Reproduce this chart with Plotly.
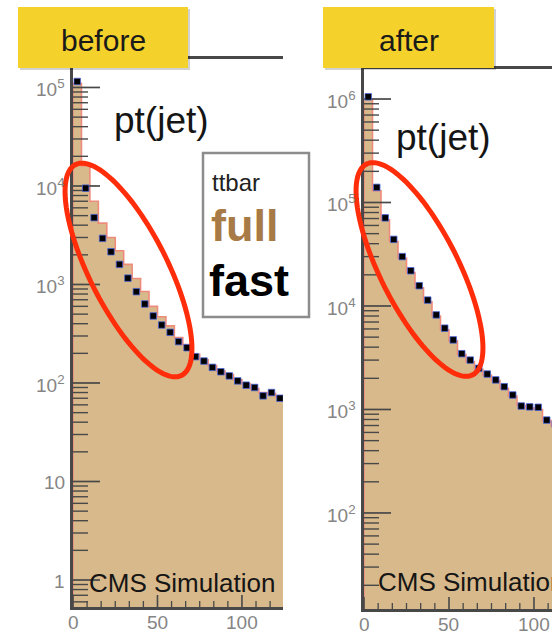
import numpy as np
import plotly.graph_objects as go

W, H = 552, 635

# ---------------- data ----------------
bin_width = 5
bin_edges = list(range(0, 130, 5))            # 0 .. 125
bin_centers = [e + bin_width / 2 for e in bin_edges[:-1]]

# "before" panel (pt(jet), ttbar)
before_full = [1.1e5, 1.6e4, 7.0e3, 4.2e3, 3.0e3, 2.2e3, 1.6e3, 1.15e3, 850, 600,
               470, 380, 290, 245, 195, 172, 150, 132, 122, 108, 98, 88, 80, 78, 72]
before_fast = [1.15e5, 9.5e3, 4.77e3, 2.94e3, 2.15e3, 1.60e3, 1.16e3, 845, 634, 479,
               388, 327, 263, 228, 185, 167, 144, 130, 118, 105, 95, 90, 74, 80, 70]

# "after" panel
after_full = [1.0e6, 1.3e5, 6.8e4, 4.2e4, 2.9e4, 2.1e4, 1.5e4, 1.1e4, 8.0e3, 5.9e3,
              4.6e3, 3.4e3, 2.9e3, 2.45e3, 2.15e3, 1.9e3, 1.6e3, 1.35e3, 1.1e3, 1.04e3,
              1.0e3, 780, 700, 650, 600]
after_fast = [1.05e6, 1.40e5, 7.1e4, 4.4e4, 3.0e4, 2.19e4, 1.57e4, 1.14e4, 8.2e3, 6.1e3,
              4.7e3, 3.46e3, 3.0e3, 2.5e3, 2.2e3, 1.93e3, 1.66e3, 1.38e3, 1.08e3, 1.06e3,
              1.05e3, 790, 720, 660, 610]

x_tick_vals = [0, 50, 100]
x_tick_text = ["0", "50", "100"]
left_y_tick_vals = [1, 10, 1e2, 1e3, 1e4, 1e5]
left_y_tick_text = ["1", "10", "10<sup>2</sup>", "10<sup>3</sup>", "10<sup>4</sup>", "10<sup>5</sup>"]
right_y_tick_vals = [1e2, 1e3, 1e4, 1e5, 1e6]
right_y_tick_text = ["10<sup>2</sup>", "10<sup>3</sup>", "10<sup>4</sup>", "10<sup>5</sup>", "10<sup>6</sup>"]

panel_titles = ["before", "after"]
var_label = "pt(jet)"
sample_label = "ttbar"
legend_full = "full"
legend_fast = "fast"
exp_label = "CMS Simulation"

# ---------------- styles ----------------
FILL = "#D8B98B"
EDGE = "#EE8C7C"
YELLOW = "#F5D12B"
RED = "#FF2D0A"
FULLCOL = "#A87A45"
AXC = "#484848"
LABC = "#858585"
FONT = "Liberation Sans"


def px(x):
    return x / W


def py(y):
    return 1 - y / H


# panel geometry (pixels) and axis ranges
panel_defs = [
    dict(full=before_full, fast=before_fast, xa="x", ya="y", left=73, right=283,
         top=59, bottom=607, xr=[0, 124.3], yr=[-0.274, 5.289],
         yticks=left_y_tick_vals, ytext=left_y_tick_text),
    dict(full=after_full, fast=after_fast, xa="x2", ya="y2", left=364, right=552,
         top=69, bottom=609, xr=[0, 110.6], yr=[1.072, 6.29],
         yticks=right_y_tick_vals, ytext=right_y_tick_text),
]

fig = go.Figure()
annotations = []
for p in panel_defs:
    xa, ya = p["xa"], p["ya"]
    full, fast = p["full"], p["fast"]
    fig.add_trace(go.Bar(x=bin_centers, y=full, width=bin_width, marker_color=FILL,
                         marker_line_width=0, xaxis=xa, yaxis=ya, showlegend=False))
    step_x = [bin_edges[0]] + bin_edges
    step_y = [1e-3] + full + [full[-1]]
    fig.add_trace(go.Scatter(x=step_x, y=step_y, mode="lines", line_shape="hv",
                             line=dict(color=EDGE, width=1.6), xaxis=xa, yaxis=ya,
                             showlegend=False, hoverinfo="skip"))

    # ROOT-like ticks drawn through the axes' scales
    ux = (p["right"] - p["left"]) / (p["xr"][1] - p["xr"][0])       # px per x unit
    uy = (p["bottom"] - p["top"]) / (p["yr"][1] - p["yr"][0])       # px per decade
    ybot = p["yr"][0]

    def seg_h(vals, length):
        xs, ys = [], []
        for v in vals:
            xs += [p["xr"][0], p["xr"][0] + length / ux, None]
            ys += [v, v, None]
        return xs, ys

    def seg_v(vals, length):
        xs, ys = [], []
        for v in vals:
            xs += [v, v, None]
            ys += [10 ** ybot, 10 ** (ybot + length / uy), None]
        return xs, ys

    minor_y = [d * 10.0 ** k for k in range(int(np.floor(p["yr"][0])), int(np.ceil(p["yr"][1])) + 1)
               for d in range(2, 10) if p["yr"][0] < np.log10(d * 10.0 ** k) < p["yr"][1]]
    step = 50 / 6
    minor_x = [n * step for n in range(1, 40) if n % 6 and n * step < p["xr"][1]]

    for (xs, ys), w in [(seg_h(p["yticks"], 27), 1.7), (seg_h(minor_y, 15), 1.4),
                        (seg_v(x_tick_vals, 12), 1.6), (seg_v(minor_x, 6), 1.3)]:
        fig.add_trace(go.Scatter(x=xs, y=ys, mode="lines", line=dict(color=AXC, width=w),
                                 xaxis=xa, yaxis=ya, showlegend=False, hoverinfo="skip"))

    # fast simulation markers
    fig.add_trace(go.Scatter(x=bin_centers, y=fast, mode="markers",
                             marker=dict(symbol="square", size=6.5, color="black",
                                         line=dict(color="#4a64d8", width=0.8)),
                             xaxis=xa, yaxis=ya, showlegend=False))

    # tick labels (placed with the same pixel scale as the axes)
    for v, txt in zip(p["yticks"], p["ytext"]):
        ypx = p["bottom"] - (np.log10(v) - ybot) * uy
        annotations.append(dict(text=txt, xref="paper", yref="paper", x=px(p["left"] - 6),
                                y=py(ypx + 1), xanchor="right", yanchor="middle",
                                showarrow=False, font=dict(family=FONT, size=19, color=LABC)))
    for v, txt in zip(x_tick_vals, x_tick_text):
        xpx = p["left"] + (v - p["xr"][0]) * ux
        annotations.append(dict(text=txt, xref="paper", yref="paper", x=px(xpx),
                                y=py(p["bottom"] + 15), xanchor="center", yanchor="middle",
                                showarrow=False, font=dict(family=FONT, size=19, color=LABC)))


def xaxis_style(domain, rng, anchor):
    return dict(domain=domain, range=rng, anchor=anchor, showline=True, linecolor=AXC,
                linewidth=3, mirror=True, ticks="", showticklabels=False,
                showgrid=False, zeroline=False, fixedrange=True)


def yaxis_style(domain, rng, anchor):
    return dict(type="log", domain=domain, range=rng, anchor=anchor, showline=True,
                linecolor=AXC, linewidth=3, ticks="", showticklabels=False,
                showgrid=False, zeroline=False, fixedrange=True)


p0, p1 = panel_defs
fig.update_layout(
    width=W, height=H, margin=dict(l=0, r=0, t=0, b=0),
    paper_bgcolor="white", plot_bgcolor="white", bargap=0, showlegend=False,
    xaxis=xaxis_style([px(p0["left"]), px(p0["right"])], p0["xr"], "y"),
    yaxis=yaxis_style([py(p0["bottom"]), py(p0["top"])], p0["yr"], "x"),
    xaxis2=xaxis_style([px(p1["left"]), 1.0], p1["xr"], "y2"),
    yaxis2=yaxis_style([py(p1["bottom"]), py(p1["top"])], p1["yr"], "x2"),
)

shapes = []

# yellow title boxes with shadow
for (x0, x1), title, tx in zip([(18, 188), (323, 494)], panel_titles, [103, 409]):
    shapes.append(dict(type="rect", xref="paper", yref="paper", x0=px(x0 + 2), x1=px(x1 + 2),
                       y0=py(70), y1=py(9), fillcolor="rgba(0,0,0,0.18)", line_width=0,
                       layer="above"))
    shapes.append(dict(type="rect", xref="paper", yref="paper", x0=px(x0), x1=px(x1),
                       y0=py(68), y1=py(7), fillcolor=YELLOW, line_width=0, layer="above"))
    annotations.append(dict(text=title, xref="paper", yref="paper", x=px(tx), y=py(40),
                            xanchor="center", yanchor="middle", showarrow=False,
                            font=dict(family=FONT, size=30, color="#1a1a1a")))

# legend box
shapes.append(dict(type="rect", xref="paper", yref="paper", x0=px(203), x1=px(309),
                   y0=py(317), y1=py(153), fillcolor="white",
                   line=dict(color="#8c8c8c", width=2.5), layer="above"))

# red ellipses (rotated)
a, b, th = 118, 39, np.deg2rad(63.3)
t = np.linspace(0, 2 * np.pi, 121)
for cx, cy in [(128.5, 270), (419.5, 269.5)]:
    ex = cx + a * np.cos(th) * np.cos(t) - b * np.sin(th) * np.sin(t)
    ey = cy + a * np.sin(th) * np.cos(t) + b * np.cos(th) * np.sin(t)
    path = "M " + " L ".join(f"{px(x):.5f},{py(y):.5f}" for x, y in zip(ex, ey)) + " Z"
    shapes.append(dict(type="path", xref="paper", yref="paper", path=path,
                       line=dict(color=RED, width=5), layer="above"))

# texts
for x, y in [(112, 120), (394, 138)]:
    annotations.append(dict(text=var_label, xref="paper", yref="paper", x=px(x), y=py(y),
                            xanchor="left", yanchor="middle", showarrow=False,
                            font=dict(family=FONT, size=37, color="#151515")))
for x, y in [(87, 583), (376, 582)]:
    annotations.append(dict(text=exp_label, xref="paper", yref="paper", x=px(x), y=py(y),
                            xanchor="left", yanchor="middle", showarrow=False,
                            font=dict(family=FONT, size=26, color="#151515")))

annotations.append(dict(text=sample_label, xref="paper", yref="paper", x=px(210), y=py(182),
                        xanchor="left", yanchor="middle", showarrow=False,
                        font=dict(family=FONT, size=24, color="#222")))
annotations.append(dict(text=f"<b>{legend_full}</b>", xref="paper", yref="paper", x=px(209),
                        y=py(225), xanchor="left", yanchor="middle", showarrow=False,
                        font=dict(family=FONT, size=45, color=FULLCOL)))
annotations.append(dict(text=f"<b>{legend_fast}</b>", xref="paper", yref="paper", x=px(207),
                        y=py(281), xanchor="left", yanchor="middle", showarrow=False,
                        font=dict(family=FONT, size=45, color="black")))

fig.update_layout(shapes=shapes, annotations=annotations)
fig.write_html("out.html")
